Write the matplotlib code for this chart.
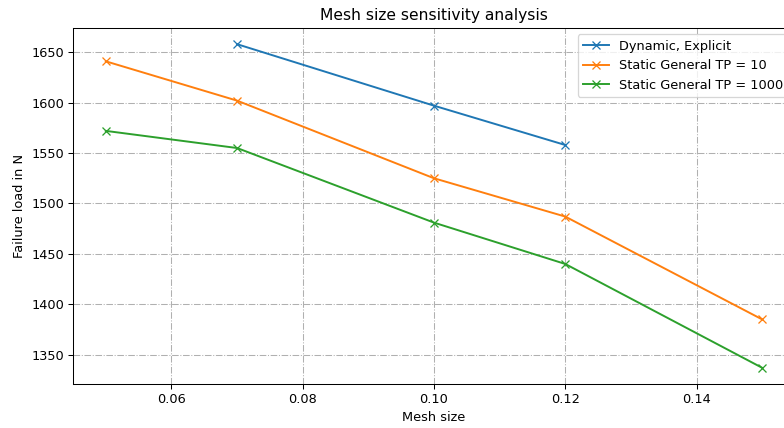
import matplotlib
matplotlib.use("Agg")
import matplotlib.pyplot as plt

mesh_dyn = [0.07, 0.10, 0.12]
load_dyn = [1658, 1597, 1558]
mesh_tp10 = [0.05, 0.07, 0.10, 0.12, 0.15]
load_tp10 = [1641, 1602, 1525, 1487, 1385]
mesh_tp1000 = [0.05, 0.07, 0.10, 0.12, 0.15]
load_tp1000 = [1572, 1555, 1481, 1440, 1337]

DPI = 93
fig = plt.figure(figsize=(784/DPI, 428/DPI), dpi=DPI)
ax = fig.add_axes([73/784, 1-384/428, (795-73)/784, (384-28)/428])
ax.plot(mesh_dyn, load_dyn, marker='x', label='Dynamic, Explicit')
ax.plot(mesh_tp10, load_tp10, marker='x', label='Static General TP = 10')
ax.plot(mesh_tp1000, load_tp1000, marker='x', label='Static General TP = 1000')
ax.grid(True, linestyle='-.', color='#b0b0b0')
ax.set_xlabel('Mesh size')
ax.set_ylabel('Failure load in N')
ax.set_title('Mesh size sensitivity analysis')
ax.legend(loc='upper right')
fig.savefig('out.png', dpi=DPI)
